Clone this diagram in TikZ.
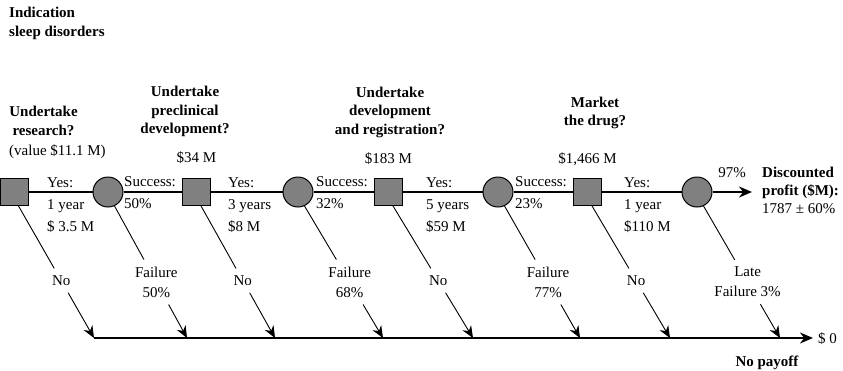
\documentclass[tikz,border=0pt]{standalone}
\usepackage{fontspec}
\setmainfont{Liberation Serif}
\usetikzlibrary{arrows.meta,calc}
\definecolor{nodegray}{RGB}{128,128,128}
\begin{document}
\begin{tikzpicture}[x=1pt,y=-1pt,
  font=\fontsize{15}{18}\selectfont,
  decision/.style={rectangle,draw,line width=1pt,fill=nodegray,
    minimum width=28pt,minimum height=27pt,inner sep=0pt},
  chance/.style={circle,draw,line width=1pt,fill=nodegray,
    minimum size=30pt,inner sep=0pt},
  trunk/.style={line width=2pt},
  bigtip/.style={-{Stealth[length=13pt,width=11pt]}},
  branch/.style={line width=0.9pt},
  smalltip/.style={-{Stealth[length=12pt,width=10pt]}},
  heading/.style={font=\fontsize{15}{18.5}\selectfont\bfseries,
    align=center,inner sep=0pt},
  plain/.style={inner sep=0pt},
  stage/.style={font=\fontsize{15}{22}\selectfont,align=left,
    inner sep=0pt,anchor=west},
  outcome/.style={font=\fontsize{15}{20}\selectfont,align=center,
    inner xsep=2pt,inner ysep=7pt},
]
\useasboundingbox (0,0) rectangle (843,370);

% headings and values
\node[heading,align=left,anchor=west] (ind) at (9,23.5) {Indication\\sleep disorders};
\node[heading] (h1) at (43.5,121) {Undertake\\research?};
\node[plain,anchor=base west] (v1) at (9,155) {(value \$11.1 M)};
\node[heading] (h2) at (185,111.5) {Undertake\\preclinical\\development?};
\node[plain,anchor=base] (v2) at (196.5,162) {\$34 M};
\node[heading] (h3) at (390,112) {Undertake\\development\\and registration?};
\node[plain,anchor=base] (v3) at (388.5,163) {\$183 M};
\node[heading] (h4) at (595,112.7) {Market\\the drug?};
\node[plain,anchor=base] (v4) at (587.5,163) {\$1,466 M};

% decision and chance nodes
\node[decision] (d1) at (14,192) {};
\node[chance]   (c1) at (108,192) {};
\node[decision] (d2) at (196.5,192) {};
\node[chance]   (c2) at (298,192) {};
\node[decision] (d3) at (388.5,192) {};
\node[chance]   (c3) at (498,192) {};
\node[decision] (d4) at (587.5,192) {};
\node[chance]   (c4) at (697,192) {};

\coordinate (out) at (752,192);
\draw[trunk] (d1) -- (c1) -- (d2) -- (c2) -- (d3) -- (c3) -- (d4) -- (c4);
\draw[trunk,bigtip] (c4) -- (out);

% stage labels
\node[stage] (y1) at (47,204.7) {Yes:\\1 year\\\$ 3.5 M};
\node[stage] (p1) at (124,193) {Success:\\50\%};
\node[stage] (y2) at (228,204.7) {Yes:\\3 years\\\$8 M};
\node[stage] (p2) at (316,193) {Success:\\32\%};
\node[stage] (y3) at (426,204.7) {Yes:\\5 years\\\$59 M};
\node[stage] (p3) at (515,193) {Success:\\23\%};
\node[stage] (y4) at (624,204.7) {Yes:\\1 year\\\$110 M};
\node[plain,anchor=base] (p4) at (732,177) {97\%};
\node[plain,anchor=west,align=left,font=\fontsize{15}{18.3}\selectfont] (prof)
  at (762,190.2) {\textbf{Discounted}\\\textbf{profit (\$M):}\\1787 ± 60\%};

% exits to the no-payoff line
\coordinate (s1) at (d1.-72);  \coordinate (e1) at (94,338);
\coordinate (s2) at (c1.-65);  \coordinate (e2) at (187,338);
\coordinate (s3) at (d2.-72);  \coordinate (e3) at (275,338);
\coordinate (s4) at (c2.-65);  \coordinate (e4) at (383,338);
\coordinate (s5) at (d3.-72);  \coordinate (e5) at (473,338);
\coordinate (s6) at (c3.-65);  \coordinate (e6) at (580,338);
\coordinate (s7) at (d4.-72);  \coordinate (e7) at (670,338);
\coordinate (s8) at (c4.-65);  \coordinate (e8) at (780,338);

\node[outcome] (n1) at ($(s1)!0.565!(e1)$) {No};
\node[outcome] (n2) at ($(s2)!0.576!(e2)$) {Failure\\50\%};
\node[outcome] (n3) at ($(s3)!0.565!(e3)$) {No};
\node[outcome] (n4) at ($(s4)!0.576!(e4)$) {Failure\\68\%};
\node[outcome] (n5) at ($(s5)!0.565!(e5)$) {No};
\node[outcome] (n6) at ($(s6)!0.576!(e6)$) {Failure\\77\%};
\node[outcome] (n7) at ($(s7)!0.565!(e7)$) {No};
\node[outcome] (n8) at ($(s8)!0.576!(e8)$) {Late\\Failure 3\%};

\foreach \i in {1,...,8}{
  \draw[branch] (s\i) -- (n\i);
  \draw[branch,smalltip] (n\i) -- (e\i);
}

\coordinate (end) at (813,338);
\draw[trunk,bigtip] (e1) -- (end);
\node[plain,anchor=base west] (zero) at (818,343) {\$ 0};
\node[plain,anchor=base,font=\fontsize{15}{18}\selectfont\bfseries] (nopay)
  at (767,366) {No payoff};
\end{tikzpicture}
\end{document}
